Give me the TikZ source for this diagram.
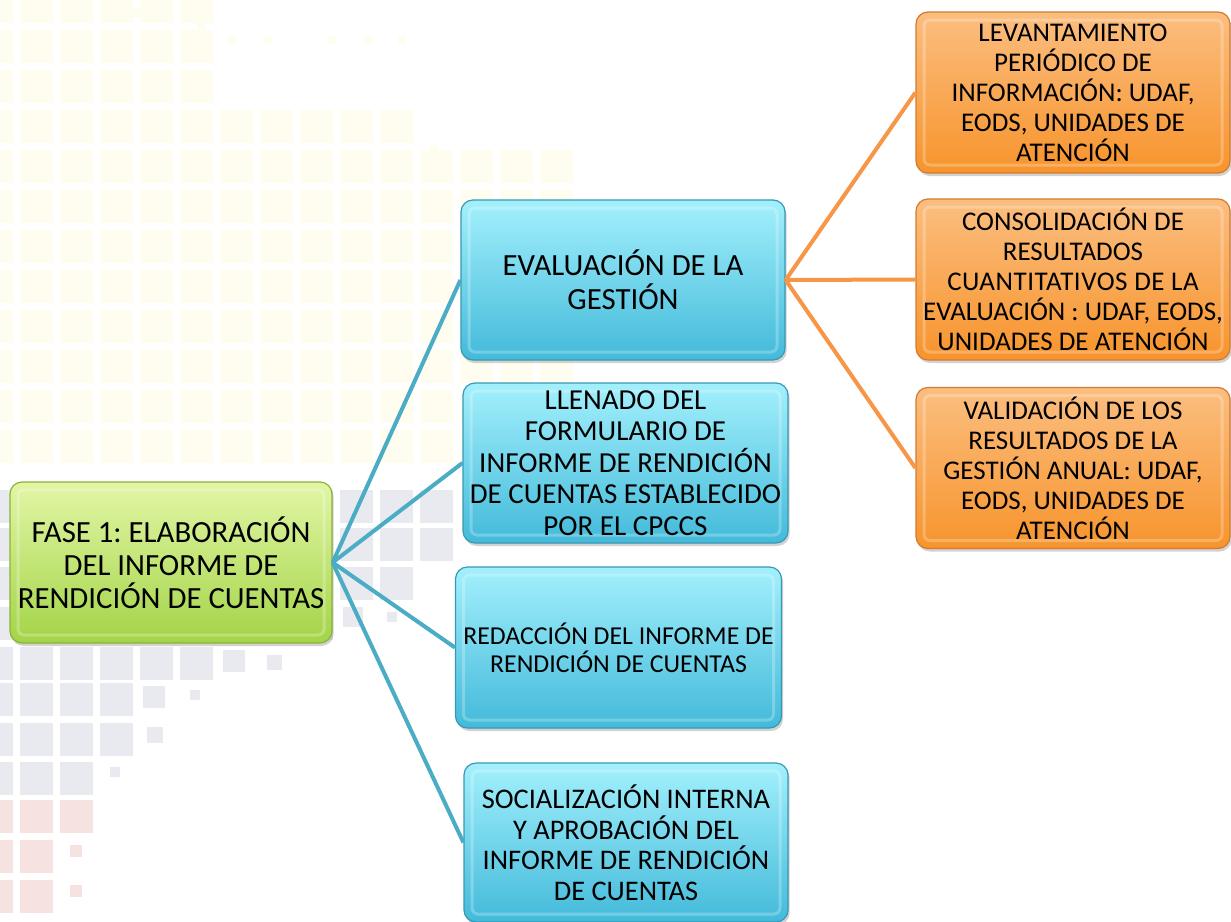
\documentclass[tikz,border=0pt]{standalone}
\usepackage{fontspec}
\setmainfont{Carlito}
\frenchspacing
\usetikzlibrary{shadows,calc}
\definecolor{blueline}{HTML}{4BACC6}
\definecolor{orangeline}{HTML}{F79646}
\definecolor{greentop}{HTML}{E2F6A6}
\definecolor{greenbot}{HTML}{A3D447}
\definecolor{greenedge}{HTML}{8AB23A}
\definecolor{bluetop}{HTML}{A3F0FC}
\definecolor{bluebot}{HTML}{43BADA}
\definecolor{blueedge}{HTML}{3898B5}
\definecolor{orangetop}{HTML}{FBBE80}
\definecolor{orangebot}{HTML}{F7942C}
\definecolor{orangeedge}{HTML}{D47A2E}
\definecolor{yelsq}{HTML}{FFFDF0}
\definecolor{greysq}{HTML}{E9EAEF}
\definecolor{redsq}{HTML}{F7E2E2}
\newcommand\msq[4]{\fill[#4] (#1,#2) rectangle ++(#3,#3);}
\begin{document}
\begin{tikzpicture}[x=0.5pt,y=-0.5pt,
  box/.style={rounded corners=6pt, align=center, inner sep=1pt, text=black,
    line width=0.6pt, drop shadow={opacity=0.35, shadow xshift=0.8pt, shadow yshift=-1.5pt},
    path picture={\draw[white, opacity=0.25, line width=1.5pt, rounded corners=3pt]
      ($(path picture bounding box.south west)+(4pt,4pt)$) rectangle
      ($(path picture bounding box.north east)+(-4pt,-4pt)$);}},
  greenbox/.style={box, top color=greentop, bottom color=greenbot, draw=greenedge},
  bluebox/.style={box, top color=bluetop, bottom color=bluebot, draw=blueedge},
  orangebox/.style={box, top color=orangetop, bottom color=orangebot, draw=orangeedge,
    minimum width=157pt, minimum height=80.5pt},
  blink/.style={draw=blueline, line width=2pt},
  olink/.style={draw=orangeline, line width=2pt},
  otxt/.style={font=\fontsize{13.5}{15}\selectfont}
]
\useasboundingbox (0,0) rectangle (1231,921);
\fill[white] (0,0) rectangle (1231,921);
% background mosaic: yellow
\foreach \j in {0,1,2}{\foreach \k in {0,...,5}{\msq{-20+40*\k}{-10+40*\j}{33}{yelsq}}}
\foreach \j in {3}{\foreach \k in {0,...,10}{\msq{-20+40*\k}{-10+40*\j}{33}{yelsq}}}
\foreach \j in {4,...,11}{\foreach \k in {0,...,14}{\msq{-20+40*\k}{-10+40*\j}{33}{yelsq}}}
\foreach \x/\y in {132/9,163/9,197/23,228/36,263/36,328/36,365/36,398/36,430/145,470/150}{\msq{\x}{\y}{8}{yelsq}}
% grey
\foreach \k in {0,...,11}{\msq{-20+40*\k}{490}{33}{greysq}\msq{-20+40*\k}{528}{33}{greysq}}
\foreach \k in {0,...,10}{\msq{-20+40*\k}{567}{33}{greysq}}
\foreach \k in {0,...,8}{\msq{-20+40*\k}{607}{33}{greysq}}
\msq{343}{607}{20}{greysq}\msq{387}{612}{10}{greysq}
\foreach \k in {0,...,5}{\msq{-20+40*\k}{647}{33}{greysq}}
\msq{223}{650}{22}{greysq}\msq{267}{655}{15}{greysq}
\foreach \k in {0,...,3}{\msq{-20+40*\k}{683}{33}{greysq}\msq{-20+40*\k}{723}{33}{greysq}}
\msq{143}{686}{22}{greysq}\msq{190}{690}{10}{greysq}\msq{147}{727}{16}{greysq}
\foreach \k in {0,...,2}{\msq{-20+40*\k}{762}{33}{greysq}}
\msq{110}{767}{10}{greysq}
% red
\foreach \k in {0,...,2}{\msq{-20+40*\k}{800}{33}{redsq}}
\foreach \k in {0,...,1}{\msq{-20+40*\k}{840}{33}{redsq}\msq{-20+40*\k}{880}{33}{redsq}}
\msq{70}{845}{12}{redsq}\msq{70}{885}{12}{redsq}

% nodes
\node[greenbox, font=\fontsize{15.4}{16.5}\selectfont, minimum width=161pt, minimum height=80.5pt] (root) at (171,562.5)
  {FASE 1: ELABORACIÓN\\DEL INFORME DE\\RENDICIÓN DE CUENTAS};
\node[bluebox, font=\fontsize{15.4}{17}\selectfont, minimum width=162pt, minimum height=80pt] (eval) at (623,280)
  {EVALUACIÓN DE LA\\GESTIÓN};
\node[bluebox, font=\fontsize{14.5}{15.8}\selectfont, minimum width=162.5pt, minimum height=80pt] (llen) at (625.5,463)
  {LLENADO DEL\\FORMULARIO DE\\INFORME DE RENDICIÓN\\DE CUENTAS ESTABLECIDO\\POR EL CPCCS};
\node[bluebox, font=\fontsize{12.9}{14}\selectfont, minimum width=163pt, minimum height=80.5pt] (redac) at (618.5,647.5)
  {REDACCIÓN DEL INFORME DE\\RENDICIÓN DE CUENTAS};
\node[bluebox, font=\fontsize{14.2}{15.25}\selectfont, minimum width=162pt, minimum height=79.5pt] (social) at (626,842.5)
  {SOCIALIZACIÓN INTERNA\\Y APROBACIÓN DEL\\INFORME DE RENDICIÓN\\DE CUENTAS};
\node[orangebox, otxt] (o1) at (1073,92.5)
  {LEVANTAMIENTO\\PERIÓDICO DE\\INFORMACIÓN: UDAF,\\EODS, UNIDADES DE\\ATENCIÓN};
\node[orangebox, otxt] (o2) at (1073,279.5)
  {CONSOLIDACIÓN DE\\RESULTADOS\\{\addfontfeature{LetterSpace=2}CUANTITATIVOS DE LA}\\EVALUACIÓN : UDAF, EODS,\\UNIDADES DE ATENCIÓN};
\node[orangebox, otxt] (o3) at (1073,468)
  {VALIDACIÓN DE LOS\\RESULTADOS DE LA\\GESTIÓN ANUAL: UDAF,\\EODS, UNIDADES DE\\ATENCIÓN};

% connectors
\draw[blink] (root.east) -- (eval.west);
\draw[blink] (root.east) -- (llen.west);
\draw[blink] (root.east) -- (redac.west);
\draw[blink] (root.east) -- (social.west);
\draw[olink] (eval.east) -- (o1.west);
\draw[olink] (eval.east) -- (o2.west);
\draw[olink] (eval.east) -- (o3.west);
\end{tikzpicture}
\end{document}
